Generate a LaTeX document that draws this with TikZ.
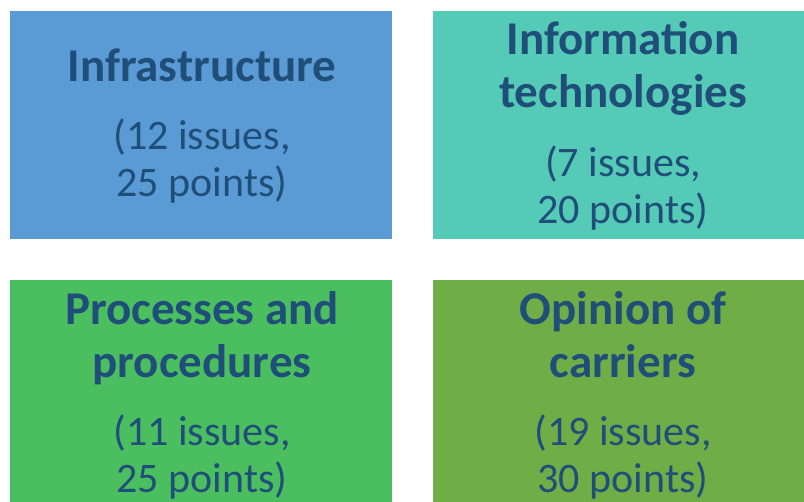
\documentclass[tikz,border=0pt]{standalone}
\usepackage{fontspec}
\setmainfont{Carlito}
\definecolor{boxblue}{HTML}{5B9BD5}
\definecolor{boxteal}{HTML}{55CAB7}
\definecolor{boxgreen}{HTML}{4BBF60}
\definecolor{boxolive}{HTML}{70AD47}
\definecolor{textblue}{HTML}{1F4E79}
\begin{document}
\begin{tikzpicture}[x=1pt, y=-1pt,
    title/.style = {anchor=base, align=center, text=textblue,
        font=\fontsize{47}{53}\selectfont\bfseries},
    info/.style = {anchor=base, align=center, text=textblue,
        font=\fontsize{42}{47}\selectfont}]
		\useasboundingbox (0,0) rectangle (804,502);
		\clip (0,0) rectangle (804,502);
		% Felder
		\fill[boxblue] (10,11) rectangle (392,239);
		\fill[boxteal] (433,11) rectangle (812,239);
		\fill[boxgreen] (10,280) rectangle (392,512);
		\fill[boxolive] (433,280) rectangle (812,512);
		% Texte (base = Grundlinie der letzten Zeile)
		\node[title] (infra) at (202,82) {Infrastructure};
		\node[info] (infra-info) at (202,197) {(12 issues,\\25 points)};
		\node[title] (itech) at (623,108) {Information\\technologies};
		\node[info] (itech-info) at (623,224) {(7 issues,\\20 points)};
		\node[title] (proc) at (202,378) {Processes and\\procedures};
		\node[info] (proc-info) at (202,493) {(11 issues,\\25 points)};
		\node[title] (opin) at (623,378) {Opinion of\\carriers};
		\node[info] (opin-info) at (623,493) {(19 issues,\\30 points)};
\end{tikzpicture}
\end{document}
